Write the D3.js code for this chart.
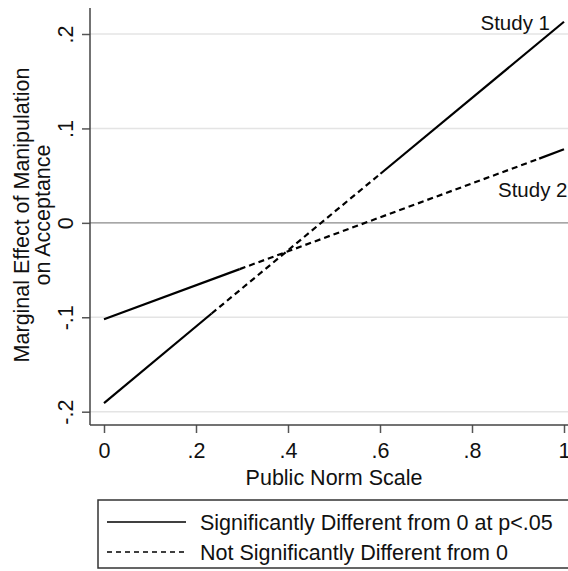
<!DOCTYPE html>
<html>
<head>
<meta charset="utf-8">
<script src="https://cdn.jsdelivr.net/npm/d3@7"></script>
<style>
  body { margin: 0; background: #fff; }
  svg { display: block; font-family: "Liberation Sans", Arial, sans-serif; }
</style>
</head>
<body>
<div id="chart"></div>
<script>
// x / y ticks
var xTicks = [0, .2, .4, .6, .8, 1];
var xTickLabels = ["0", ".2", ".4", ".6", ".8", "1"];
var yTicks = [-.2, -.1, 0, .1, .2];
var yTickLabels = ["-.2", "-.1", "0", ".1", ".2"];

// marginal effect lines, break points where significance changes
var study1X = [0, 0.234, 0.601, 1];
var study1Y = [-0.191, -0.096, 0.052, 0.213];
var study1Sig = [true, false, true];

var study2X = [0, 0.295, 0.946, 1];
var study2Y = [-0.102, -0.049, 0.068, 0.078];
var study2Sig = [true, false, true];

var legendLabels = ["Significantly Different from 0 at p<.05", "Not Significantly Different from 0"];

var W = 568, H = 571;
var fs = "21.5px";

var svg = d3.select("#chart").append("svg")
    .attr("width", W)
    .attr("height", H);

var x = d3.scaleLinear().domain([0, 1]).range([104, 564]);
var y = d3.scaleLinear().domain([-0.2, 0.2]).range([411.7, 34]);

var plotLeft = 90, plotTop = 8, plotBottom = 425;

// grid lines
svg.selectAll(".grid")
    .data(yTicks)
    .enter()
    .append("line")
    .attr("x1", plotLeft)
    .attr("x2", W)
    .attr("y1", function(d) { return y(d); })
    .attr("y2", function(d) { return y(d); })
    .attr("stroke", function(d) { return d === 0 ? "#8a8a8a" : "#e4e4e4"; })
    .attr("stroke-width", function(d) { return d === 0 ? 1.3 : 1.5; });

// y axis
var yAxis = d3.axisLeft(y)
    .tickValues(yTicks)
    .tickSize(8)
    .tickFormat(function(d, i) { return yTickLabels[i]; });

var gy = svg.append("g")
    .attr("transform", "translate(" + plotLeft + ",0)")
    .call(yAxis);
gy.select(".domain").remove();
gy.selectAll("line").attr("stroke", "#555").attr("stroke-width", 1.5);
gy.selectAll("text")
    .attr("x", 0).attr("dy", null).attr("y", 0)
    .attr("text-anchor", "middle")
    .attr("transform", "translate(-17,0) rotate(-90)")
    .style("font-size", fs)
    .style("font-family", "Liberation Sans, Arial, sans-serif")
    .attr("fill", "#111");

svg.append("line")
    .attr("x1", plotLeft).attr("x2", plotLeft)
    .attr("y1", plotTop).attr("y2", plotBottom)
    .attr("stroke", "#444").attr("stroke-width", 1.5);

// x axis
var xAxis = d3.axisBottom(x)
    .tickValues(xTicks)
    .tickSize(8)
    .tickFormat(function(d, i) { return xTickLabels[i]; });

var gx = svg.append("g")
    .attr("transform", "translate(0," + plotBottom + ")")
    .call(xAxis);
gx.select(".domain").remove();
gx.selectAll("line").attr("stroke", "#555").attr("stroke-width", 1.5);
gx.selectAll("text")
    .attr("y", 33).attr("dy", null)
    .style("font-size", fs)
    .style("font-family", "Liberation Sans, Arial, sans-serif")
    .attr("fill", "#111");

svg.append("line")
    .attr("x1", plotLeft).attr("x2", W)
    .attr("y1", plotBottom).attr("y2", plotBottom)
    .attr("stroke", "#444").attr("stroke-width", 1.5);

// axis titles
svg.append("text")
    .attr("x", 334).attr("y", 485)
    .attr("text-anchor", "middle")
    .style("font-size", fs)
    .attr("fill", "#111")
    .text("Public Norm Scale");

svg.append("text")
    .attr("transform", "translate(29,215) rotate(-90)")
    .attr("text-anchor", "middle")
    .style("font-size", fs)
    .attr("fill", "#111")
    .text("Marginal Effect of Manipulation");

svg.append("text")
    .attr("transform", "translate(50,215) rotate(-90)")
    .attr("text-anchor", "middle")
    .style("font-size", fs)
    .attr("fill", "#111")
    .text("on Acceptance");

// lines
function drawStudy(xs, ys, sig) {
    for (var i = 0; i < sig.length; i++) {
        svg.append("line")
            .attr("x1", x(xs[i])).attr("y1", y(ys[i]))
            .attr("x2", x(xs[i + 1])).attr("y2", y(ys[i + 1]))
            .attr("stroke", "#000")
            .attr("stroke-width", 2.2)
            .attr("stroke-dasharray", sig[i] ? null : "6,4");
    }
}
drawStudy(study1X, study1Y, study1Sig);
drawStudy(study2X, study2Y, study2Sig);

svg.append("text")
    .attr("x", 550).attr("y", 30)
    .attr("text-anchor", "end")
    .style("font-size", "20.5px")
    .attr("fill", "#111")
    .text("Study 1");

svg.append("text")
    .attr("x", 498).attr("y", 197)
    .style("font-size", "20.5px")
    .attr("fill", "#111")
    .text("Study 2");

// legend
svg.append("rect")
    .attr("x", 98).attr("y", 500)
    .attr("width", 500).attr("height", 68)
    .attr("fill", "none")
    .attr("stroke", "#333")
    .attr("stroke-width", 1.5);

var legRows = [522, 552];
legendLabels.forEach(function(lab, i) {
    svg.append("line")
        .attr("x1", 107).attr("x2", 186)
        .attr("y1", legRows[i]).attr("y2", legRows[i])
        .attr("stroke", "#000")
        .attr("stroke-width", 1.6)
        .attr("stroke-dasharray", i === 0 ? null : "5,4");
    svg.append("text")
        .attr("x", 200).attr("y", legRows[i] + 7.5)
        .style("font-size", fs)
        .attr("fill", "#111")
        .text(lab);
});
</script>
</body>
</html>
